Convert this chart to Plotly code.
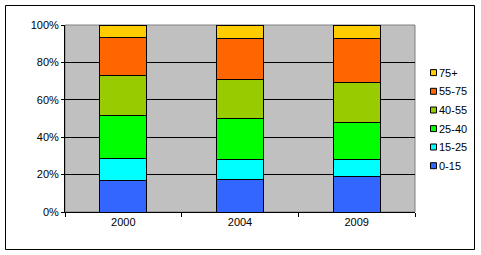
import plotly.graph_objects as go

years = ["2000", "2004", "2009"]
groups = ["0-15", "15-25", "25-40", "40-55", "55-75", "75+"]
colors = ["#3366FF", "#00FFFF", "#00FF00", "#99CC00", "#FF6600", "#FFCC00"]
v_0_15 = [16.9, 17.5, 19.1]
v_15_25 = [11.8, 10.7, 9.1]
v_25_40 = [23.0, 21.9, 19.7]
v_40_55 = [21.4, 20.8, 21.4]
v_55_75 = [20.3, 22.0, 23.6]
v_75p = [6.6, 7.1, 7.1]
series = [v_0_15, v_15_25, v_25_40, v_40_55, v_55_75, v_75p]
y_tick_vals = [0, 20, 40, 60, 80, 100]
y_tick_text = ["0%", "20%", "40%", "60%", "80%", "100%"]

W, H = 481, 255
L, R, T, B = 65, 66, 25, 43
pw, ph = W - L - R, H - T - B

def px(x):
    return (x - L) / pw

def py(y):
    return (H - B - y) / ph

fig = go.Figure()
for name, vals, col in zip(groups, series, colors):
    fig.add_trace(go.Bar(x=years, y=vals, name=name, marker_color=col,
                         marker_line_color="black", marker_line_width=1,
                         showlegend=False))

shapes = []
annotations = []
# plot-area border (grey) and outer chart border (black)
shapes.append(dict(type="rect", xref="paper", yref="paper", x0=0, x1=1, y0=0, y1=1,
                   line=dict(color="#808080", width=1), layer="below"))
shapes.append(dict(type="rect", xref="paper", yref="paper",
                   x0=px(5.5), x1=px(474.5), y0=py(5.5), y1=py(249.5),
                   line=dict(color="black", width=1)))
# custom legend
leg_y = [165.7, 147.0, 128.6, 110.0, 91.3, 72.6]
for name, col, yc in zip(groups, colors, leg_y):
    shapes.append(dict(type="rect", xref="paper", yref="paper",
                       x0=px(430.5), x1=px(436.5), y0=py(yc - 3), y1=py(yc + 3),
                       fillcolor=col, line=dict(color="black", width=1)))
    annotations.append(dict(xref="paper", yref="paper", x=px(439), y=py(yc),
                            text=name, showarrow=False, xanchor="left", yanchor="middle",
                            borderpad=0, borderwidth=0,
                            font=dict(family="Liberation Sans, Arial", size=11, color="black")))

fig.update_layout(
    width=W, height=H,
    margin=dict(l=L, r=R, t=T, b=B, pad=0),
    barmode="stack", bargap=0.597,
    paper_bgcolor="white", plot_bgcolor="#C0C0C0",
    font=dict(family="Liberation Sans, Arial", size=11, color="black"),
    shapes=shapes, annotations=annotations,
    xaxis=dict(showline=True, linecolor="black", linewidth=1, ticks="outside",
               tickson="boundaries", ticklen=4, tickcolor="black", showgrid=False,
               tickfont=dict(size=11)),
    yaxis=dict(range=[0, 100], tickmode="array", tickvals=y_tick_vals, ticktext=y_tick_text,
               showline=True, linecolor="black", linewidth=1, ticks="outside",
               ticklen=3, tickcolor="black", showgrid=True, gridcolor="black",
               gridwidth=1, zeroline=False, tickfont=dict(size=11)),
)

fig.write_html("out.html")
